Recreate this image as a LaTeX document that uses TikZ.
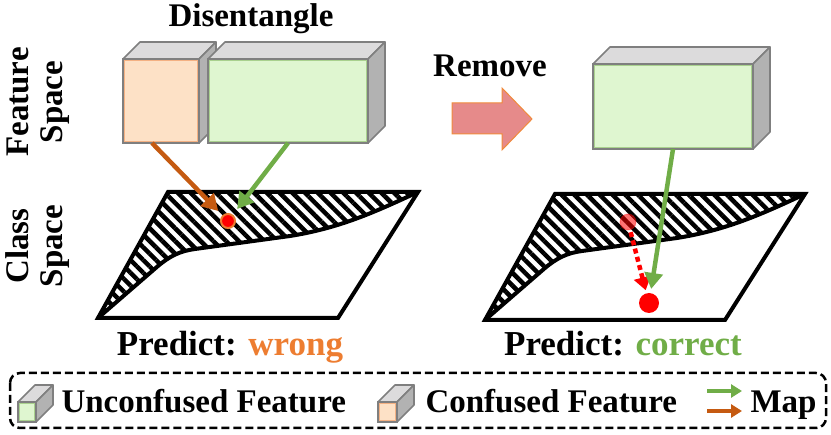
\documentclass[tikz,border=0pt]{standalone}
\usepackage{fontspec}
\setmainfont{Liberation Serif}
\usetikzlibrary{arrows.meta,calc,patterns.meta}

\definecolor{mapbrown}{HTML}{C55A11}
\definecolor{mapgreen}{HTML}{70AD47}
\definecolor{wrongcol}{HTML}{ED7D31}
\definecolor{peach}{HTML}{FDE1C6}
\definecolor{peachline}{HTML}{F4B183}
\definecolor{mint}{HTML}{DFF6D0}
\definecolor{mintline}{HTML}{A9D18E}
\definecolor{boxtop}{HTML}{DCDBDC}
\definecolor{boxside}{HTML}{B2B2B2}
\definecolor{boxedge}{HTML}{7F7F7F}
\definecolor{removefill}{HTML}{E68A8A}
\definecolor{removeline}{HTML}{F08A3C}

% top and side faces of a feature block
\newcommand\blockdepth[1]{%
  \filldraw[face,fill=boxtop] (#1.north west) -- ++(17,-17)
    -- ($(#1.north east)+(17,-17)$) -- (#1.north east) -- cycle;
  \filldraw[face,fill=boxside] (#1.north east) -- ++(17,-17)
    -- ($(#1.south east)+(17,-17)$) -- (#1.south east) -- cycle;}

% one class space, hatched part above the boundary curve
\newcommand\classplane{%
  \fill[pattern={Lines[angle=-45,distance=9pt,line width=4.5pt]}]
    (98,318) -- (168,192) -- (418,192) .. controls (375,212) and (340,228) .. (290,236)
    -- (195,249) .. controls (180,251) and (170,256) .. (158,266) -- cycle;
  \draw[plane] (98,318) -- (168,192) -- (418,192) -- (338,318) -- cycle;
  \draw[plane] (418,192) .. controls (375,212) and (340,228) .. (290,236)
    -- (195,249) .. controls (180,251) and (170,256) .. (158,266) -- (98,318);}

\begin{document}
\begin{tikzpicture}[x=1pt,y=-1pt,
  font=\bfseries\fontsize{33}{34}\selectfont,
  face/.style={draw=boxedge,line width=1.6pt,line join=round},
  feat/.style={draw=boxedge,line width=2pt,inner sep=0pt,outer sep=0pt,anchor=north west,
    path picture={\draw[#1,line width=3.5pt] (path picture bounding box.south west)
      rectangle (path picture bounding box.north east);}},
  plane/.style={line width=4pt,line join=miter},
  dot/.style={circle,inner sep=0pt,fill=red},
  maplink/.style={line width=4.5pt,-{Triangle[length=16pt,width=18pt]}},
  legarrow/.style={line width=3.5pt,-{Triangle[length=11pt,width=13pt]}}]
\useasboundingbox (0,0) rectangle (831,435);

% row labels
\node[rotate=90,align=center] (fspace) at (38,102) {Feature\\Space};
\node[rotate=90,align=center] (cspace) at (38,246) {Class\\Space};

% left: disentangled features
\node[anchor=base] (title) at (251,27) {Disentangle};
\node[feat=peachline,fill=peach,minimum width=76pt,minimum height=84pt] (conf) at (123,59) {};
\blockdepth{conf}
\node[feat=mintline,fill=mint,minimum width=160pt,minimum height=84pt] (unconf) at (208,59) {};
\blockdepth{unconf}
\begin{scope}
  \classplane
\end{scope}
\node[dot,minimum size=14pt,draw=wrongcol,line width=2pt] (dotwrong) at (228,221) {};
\draw[maplink,mapbrown,shorten >=6pt] ($(conf.south)+(-9,0)$) -- (dotwrong);
\draw[maplink,mapgreen,shorten >=7pt] (unconf.south) -- (dotwrong);
\node[anchor=base] (predl) at (230,356) {\fontsize{35}{36}\selectfont Predict: \textcolor{wrongcol}{wrong}};

% remove step
\node[anchor=base] (remove) at (490,77) {Remove};
\filldraw[fill=removefill,draw=removeline,line width=1pt]
  (452,103) -- (502,103) -- (502,88) -- (532,119) -- (502,150) -- (502,134) -- (452,134) -- cycle;

% right: unconfused feature only
\node[feat=mintline,fill=mint,minimum width=160pt,minimum height=85pt] (keep) at (593,64) {};
\blockdepth{keep}
\begin{scope}[shift={(387,2)}]
  \classplane
\end{scope}
\node[dot,minimum size=16pt,fill opacity=.55,draw=red,draw opacity=.3,line width=1pt] (dotold) at (628,222) {};
\node[dot,minimum size=20pt] (dotright) at (649,303) {};
\draw[maplink,red,dash pattern=on 5pt off 3.5pt,shorten <=2pt,shorten >=3pt,
  -{Triangle[length=13pt,width=17pt]}] (dotold) -- (dotright);
\draw[maplink,mapgreen,shorten >=4pt] (keep.south) -- (dotright);
\node[anchor=base] (predr) at (623,356) {\fontsize{35}{36}\selectfont Predict: \textcolor{mapgreen}{correct}};

% legend
\draw[line width=2.5pt,dash pattern=on 8pt off 4pt,rounded corners=10pt] (10,373) rectangle (826,428);
\node[feat=mintline,fill=mint,line width=1.4pt,minimum width=18pt,minimum height=20pt] (legunc) at (18,402) {};
\blockdepth{legunc}
\node[anchor=base west] (legunctext) at (58,413) {Unconfused Feature};
\node[feat=peachline,fill=peach,line width=1.4pt,minimum width=19pt,minimum height=20pt] (legconf) at (378,402) {};
\blockdepth{legconf}
\node[anchor=base west] (legconftext) at (422,413) {Confused Feature};
\coordinate (mg0) at (707,391);
\coordinate (mg1) at (742,391);
\coordinate (mb0) at (707,411);
\coordinate (mb1) at (742,411);
\draw[legarrow,mapgreen] (mg0) -- (mg1);
\draw[legarrow,mapbrown] (mb0) -- (mb1);
\node[anchor=base west] (legmap) at (747,413) {Map};
\end{tikzpicture}
\end{document}
